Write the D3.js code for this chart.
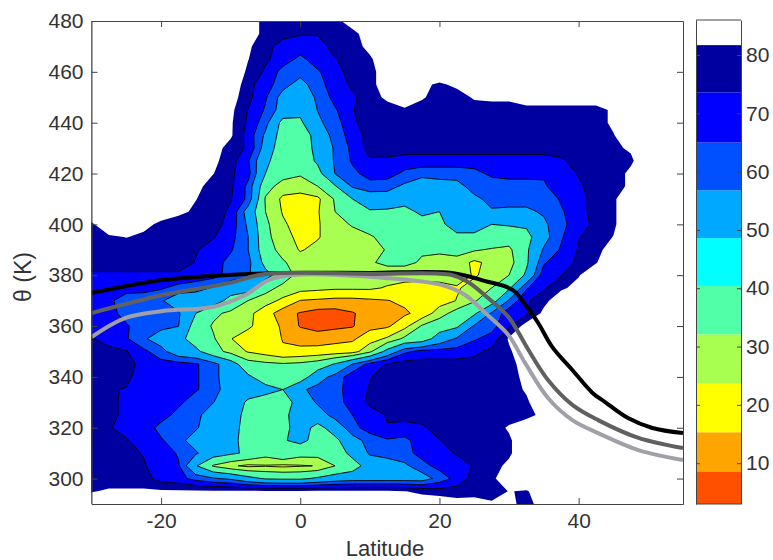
<!DOCTYPE html>
<html>
<head>
<meta charset="utf-8">
<script src="https://d3js.org/d3.v7.min.js"></script>
<style>
  body { margin: 0; background: #fff; }
  text { font-family: "Liberation Sans", Arial, sans-serif; fill: #333; }
</style>
</head>
<body>
<div id="chart"></div>
<script>
var latTicks = [-20, 0, 20, 40];
var thetaTicks = [300, 320, 340, 360, 380, 400, 420, 440, 460, 480];
var barTicks = [10, 20, 30, 40, 50, 60, 70, 80];

// grid of the field, 2.5 deg by 5 K (first row is 480 K)
var lats = [-30, -27.5, -25, -22.5, -20, -17.5, -15, -12.5, -10, -7.5, -5, -2.5, 0, 2.5, 5, 7.5, 10, 12.5, 15, 17.5, 20, 22.5, 25, 27.5, 30, 32.5, 35, 37.5, 40, 42.5, 45, 47.5, 50, 52.5, 55];
var thetas = [480, 475, 470, 465, 460, 455, 450, 445, 440, 435, 430, 425, 420, 415, 410, 405, 400, 395, 390, 385, 380, 375, 370, 365, 360, 355, 350, 345, 340, 335, 330, 325, 320, 315, 310, 305, 300, 295, 290];
var field = [
  [90,90,90,90,90,90,90,90,90,90,77,77,77,77,77,90,90,90,90,90,90,90,90,90,90,90,90,90,90,90,90,90,90,90,90],
  [90,90,90,90,90,90,90,90,90,90,77,77,74,74,77,77,90,90,90,90,90,90,90,90,90,90,90,90,90,90,90,90,90,90,90],
  [90,90,90,90,90,90,90,90,90,83,77,69,69,69,77,77,85,90,90,90,90,90,90,90,90,90,90,90,90,90,90,90,90,90,90],
  [90,90,90,90,90,90,90,90,90,82,75,69,63,69,73,77,80,90,90,90,90,90,90,90,90,90,90,90,90,90,90,90,90,90,90],
  [90,90,90,90,90,90,90,90,90,80,72,62,60,64,70,77,77,90,90,90,90,90,90,90,90,90,90,90,90,90,90,90,90,90,90],
  [90,90,90,90,90,90,90,90,90,76,69,60,53,62,69,75,77,90,90,84,80,84,90,90,90,90,90,90,90,90,90,90,90,90,90],
  [90,90,90,90,90,90,90,90,86,76,66,53,52,58,68,72,77,84,90,83,77,77,83,84,84,90,90,90,90,90,90,90,90,90,90],
  [90,90,90,90,90,90,90,90,84,73,64,52,47,57,64,73,77,77,80,77,77,77,77,77,77,77,77,77,77,77,84,90,90,90,90],
  [90,90,90,90,90,90,90,90,83,72,60,40,42,55,61,72,77,77,77,77,77,77,77,77,77,77,77,77,77,77,84,90,90,90,90],
  [90,90,90,90,90,90,90,90,83,70,55,38,38,48,61,68,77,77,77,77,77,77,77,77,77,77,77,77,77,77,81,90,90,90,90],
  [90,90,90,90,90,90,90,86,78,72,52,36,36,48,58,67,77,77,77,77,77,77,77,77,77,77,77,77,77,77,80,83,90,90,90],
  [90,90,90,90,90,90,90,84,77,66,47,36,36,46,58,66,72,72,70,70,70,70,70,70,70,70,70,72,77,77,77,80,90,90,90],
  [90,90,90,90,90,90,86,82,75,68,44,36,33,40,57,63,68,69,63,60,60,60,62,67,69,69,66,69,74,77,77,84,90,90,90],
  [90,90,90,90,90,90,85,77,75,63,36,28,28,32,43,58,62,60,55,50,53,54,60,60,60,60,64,69,72,77,77,84,90,90,90],
  [90,90,90,90,90,90,82,77,74,63,31,22,20,22,33,44,50,52,48,50,50,50,55,59,60,60,60,66,70,77,80,90,90,90,90],
  [90,90,90,90,86,84,80,77,72,52,32,23,20,23,32,36,43,42,41,46,44,50,50,56,55,55,58,64,70,77,80,90,90,90,90],
  [80,90,90,84,80,77,77,77,70,55,34,25,20,23,28,33,36,36,36,40,42,48,46,44,45,46,55,63,69,76,80,90,90,90,90],
  [77,80,82,80,77,77,77,74,68,57,35,26,22,23,28,28,31,35,36,36,36,42,43,40,37,40,53,64,73,77,82,90,90,90,90],
  [77,77,77,77,77,77,74,70,66,57,36,29,23,26,28,28,27,33,36,33,34,36,33,31,30,42,58,66,74,79,86,90,90,90,90],
  [77,77,77,77,77,77,73,69,62,60,40,33,28,28,28,28,31,34,34,31,28,28,22,26,28,42,64,70,75,81,90,90,90,90,90],
  [72,72,72,72,72,72,70,68,62,58,48,38,28,27,27,27,27,27,27,27,27,27,23,26,32,46,70,73,81,90,90,90,90,90,90],
  [70,69,69,68,66,62,60,56,50,50,36,29,27,26,25,25,25,23,21,20,21,23,26,32,42,64,72,80,85,90,90,90,90,90,90],
  [69,67,60,60,58,50,50,50,40,32,27,22,15,14,13,13,14,15,17,20,20,24,31,38,58,72,79,88,90,90,90,90,90,90,90],
  [69,68,62,61,60,58,44,34,30,26,19,11,8,6,6,8,11,12,14,18,28,36,42,58,70,72,84,90,90,90,90,90,90,90,90],
  [70,70,66,60,59,57,38,31,26,25,20,14,8,6,7,8,13,14,21,33,38,42,58,62,72,86,90,90,90,90,90,90,90,90,90],
  [74,71,66,58,52,48,38,33,24,20,19,15,13,12,13,14,20,25,34,37,50,58,64,68,83,90,90,90,90,90,90,90,90,90,90],
  [76,75,74,67,60,50,47,36,29,23,20,16,17,18,19,20,30,48,63,68,68,68,71,76,80,90,90,90,90,90,90,90,90,90,90],
  [77,77,76,71,68,68,66,60,50,36,34,33,34,37,45,57,68,74,77,77,77,77,77,77,77,88,90,90,90,90,90,90,90,90,90],
  [75,74,75,70,68,68,66,60,50,46,38,34,37,52,60,70,73,77,77,77,77,77,77,77,77,85,90,90,90,90,90,90,90,90,90],
  [75,74,73,69,69,68,66,60,52,50,48,44,55,60,62,69,74,77,77,77,77,77,77,77,77,83,90,90,90,90,90,90,90,90,90],
  [76,75,72,70,69,67,60,57,52,42,38,37,50,58,61,69,75,77,77,77,77,77,77,77,77,80,90,90,90,90,90,90,90,90,90],
  [77,75,72,70,69,62,59,52,50,40,36,41,50,52,60,65,70,74,77,77,77,77,77,77,77,78,85,90,90,90,90,90,90,90,90],
  [77,74,71,70,62,60,58,50,48,40,36,40,50,40,50,62,69,73,70,72,77,77,77,77,83,90,90,90,90,90,90,90,90,90,90],
  [77,74,74,71,66,60,52,48,47,40,36,43,47,40,41,53,60,64,63,69,73,77,77,77,80,90,90,90,90,90,90,90,90,90,90],
  [77,77,75,73,70,64,58,50,46,42,36,42,36,36,36,48,58,60,62,68,71,74,77,77,80,90,90,90,90,90,90,90,90,90,90],
  [77,77,77,74,70,66,45,31,25,22,23,22,23,24,32,38,50,52,55,62,68,70,74,78,84,90,90,90,90,90,90,90,90,90,90],
  [75,77,77,77,70,68,62,58,55,48,43,42,42,46,50,52,52,52,52,52,60,68,77,81,84,90,90,90,90,90,90,90,90,90,90],
  [81,83,83,83,83,83,83,83,83,83,83,83,83,83,83,83,83,83,82,79,77,77,78,78,82,81,86,90,90,90,90,90,90,90,90],
  [90,90,90,90,90,90,90,90,90,90,90,90,90,90,90,90,90,90,90,90,90,86,86,83,83,80,84,90,90,90,90,90,90,90,90]
];

// contour levels of the plot and the fill above each one (first colour is the base)
var levels = [8.5, 15.3, 23.7, 32, 44, 56.8, 65, 73.4, 81.7];
var fills = ['#ff5000', '#ffa500', '#ffff00', '#a8ff50', '#50ffa8', '#00a8ff', '#0050ff', '#0000ff', '#0000a0', '#ffffff'];

// colour bar bands
var barEdges = [3, 8.6, 15.3, 23.7, 32.1, 40.4, 48.6, 56.8, 65, 73.6, 81.7, 86];
var barColours = ['#ff5000', '#ffa500', '#ffff00', '#a8ff50', '#50ffa8', '#00ffff', '#00a8ff', '#0050ff', '#0000ff', '#0000a0', '#ffffff'];

// the three overlaid curves
var blackLat = [-30, -19.8, -10.3, -2.2, 10, 21.8, 26.6, 30.5, 32.8, 34.2, 36.2, 39.1, 42, 43.8, 47.1, 50.6, 55];
var blackTheta = [373, 378.1, 380.1, 380.9, 380.9, 380.9, 377.7, 374.2, 366.7, 361.2, 351.8, 342.7, 333.7, 330.1, 323.8, 319.9, 317.9];
var darkLat = [-30, -19.8, -10.3, -5, 10, 21.8, 24.1, 27, 29.9, 31.3, 32.8, 35.6, 39.1, 42.8, 48.6, 55];
var darkTheta = [365.1, 372.2, 376.9, 380.5, 380.5, 380.1, 377.3, 371, 363.6, 357.7, 350.6, 338.8, 329, 323, 316, 312];
var lightLat = [-30, -25.1, -19.8, -12.6, -7.9, -4.6, -1.1, 12.2, 20.4, 23.7, 26.6, 29.9, 32.3, 35.6, 39.1, 42.8, 48.6, 55];
var lightTheta = [355.7, 363.2, 365.9, 367.5, 372.2, 378.1, 380.1, 378.9, 376.1, 372.2, 365.1, 356.5, 345.5, 331.7, 323, 317.9, 311.2, 307.3];

var width = 773, height = 560;
var plot = { left: 91.5, right: 683, top: 21, bottom: 504 };
var bar = { left: 696, right: 741, top: 20, bottom: 504 };

var svg = d3.select('#chart').append('svg')
  .attr('width', width)
  .attr('height', height);

var x = d3.scaleLinear().domain([-30, 55]).range([plot.left, plot.right]);
var y = d3.scaleLinear().domain([290, 480]).range([plot.bottom, plot.top]);

svg.append('clipPath').attr('id', 'plot-clip')
  .append('rect')
  .attr('x', plot.left).attr('y', plot.top)
  .attr('width', plot.right - plot.left)
  .attr('height', plot.bottom - plot.top);

var g = svg.append('g').attr('clip-path', 'url(#plot-clip)');

// base colour, then everything above each level painted over it
g.append('rect')
  .attr('x', plot.left).attr('y', plot.top)
  .attr('width', plot.right - plot.left)
  .attr('height', plot.bottom - plot.top)
  .attr('fill', fills[0]);

var contours = d3.contours()
  .size([lats.length, thetas.length])
  .thresholds(levels)(d3.merge(field));

// d3.contours puts grid node i at i + 0.5
var latOf = d3.scaleLinear().domain([0.5, lats.length - 0.5]).range([lats[0], lats[lats.length - 1]]);
var thetaOf = d3.scaleLinear().domain([0.5, thetas.length - 0.5]).range([thetas[0], thetas[thetas.length - 1]]);
var path = d3.geoPath(d3.geoTransform({
  point: function(px, py) {
    this.stream.point(x(latOf(px)), y(thetaOf(py)));
  }
}));

g.selectAll('path.band')
  .data(contours)
  .enter().append('path')
  .attr('class', 'band')
  .attr('d', path)
  .attr('fill', function(d, i) { return fills[i + 1]; })
  .attr('stroke', function(d, i) { return i < levels.length - 1 ? '#000' : 'none'; })
  .attr('stroke-width', 0.9)
  .attr('stroke-linejoin', 'round');

var line = d3.line()
  .x(function(d) { return x(d[0]); })
  .y(function(d) { return y(d[1]); })
  .curve(d3.curveCatmullRom);

[[blackLat, blackTheta, '#000000'], [lightLat, lightTheta, '#a0a0a8'], [darkLat, darkTheta, '#606060']].forEach(function(s) {
  g.append('path')
    .attr('d', line(d3.zip(s[0], s[1])))
    .attr('fill', 'none')
    .attr('stroke', s[2])
    .attr('stroke-width', 4);
});

// plot axes, ticks point inwards on all four sides
function style(sel) {
  sel.selectAll('path, line').attr('stroke', '#444').attr('stroke-width', 1);
  sel.selectAll('text').attr('font-size', 21).attr('fill', '#333');
  return sel;
}

svg.append('g').attr('transform', 'translate(0,' + plot.bottom + ')')
  .call(d3.axisBottom(x).tickValues(latTicks).tickFormat(String).tickSizeInner(-6).tickSizeOuter(0).tickPadding(9))
  .call(style);
svg.append('g').attr('transform', 'translate(0,' + plot.top + ')')
  .call(d3.axisTop(x).tickValues(latTicks).tickSizeInner(-6).tickSizeOuter(0).tickFormat(''))
  .call(style);
svg.append('g').attr('transform', 'translate(' + plot.left + ',0)')
  .call(d3.axisLeft(y).tickValues(thetaTicks).tickSizeInner(-6).tickSizeOuter(0).tickPadding(8))
  .call(style);
svg.append('g').attr('transform', 'translate(' + plot.right + ',0)')
  .call(d3.axisRight(y).tickValues(thetaTicks).tickSizeInner(-6).tickSizeOuter(0).tickFormat(''))
  .call(style);

svg.append('text')
  .attr('x', 385).attr('y', 556)
  .attr('text-anchor', 'middle')
  .attr('font-size', 22)
  .text('Latitude');

svg.append('text')
  .attr('transform', 'translate(31,277) rotate(-90)')
  .attr('text-anchor', 'middle')
  .attr('font-size', 23)
  .text('θ (K)');

// colour bar
var barY = d3.scaleLinear().domain([3, 86]).range([bar.bottom, bar.top]);

svg.append('g').selectAll('rect')
  .data(barColours)
  .enter().append('rect')
  .attr('x', bar.left)
  .attr('width', bar.right - bar.left)
  .attr('y', function(d, i) { return barY(barEdges[i + 1]); })
  .attr('height', function(d, i) { return barY(barEdges[i]) - barY(barEdges[i + 1]); })
  .attr('fill', function(d) { return d; });

svg.append('g').attr('transform', 'translate(' + bar.right + ',0)')
  .call(d3.axisRight(barY).tickValues(barTicks).tickSizeInner(-4).tickSizeOuter(0).tickPadding(5))
  .call(style)
  .selectAll('text').attr('text-anchor', 'start');
svg.append('g').attr('transform', 'translate(' + bar.left + ',0)')
  .call(d3.axisLeft(barY).tickValues(barTicks).tickSizeInner(-4).tickSizeOuter(0).tickFormat(''))
  .call(style);
svg.append('line')
  .attr('x1', bar.left).attr('x2', bar.right)
  .attr('y1', bar.top).attr('y2', bar.top)
  .attr('stroke', '#444');
svg.append('line')
  .attr('x1', bar.left).attr('x2', bar.right)
  .attr('y1', bar.bottom).attr('y2', bar.bottom)
  .attr('stroke', '#444');
</script>
</body>
</html>
